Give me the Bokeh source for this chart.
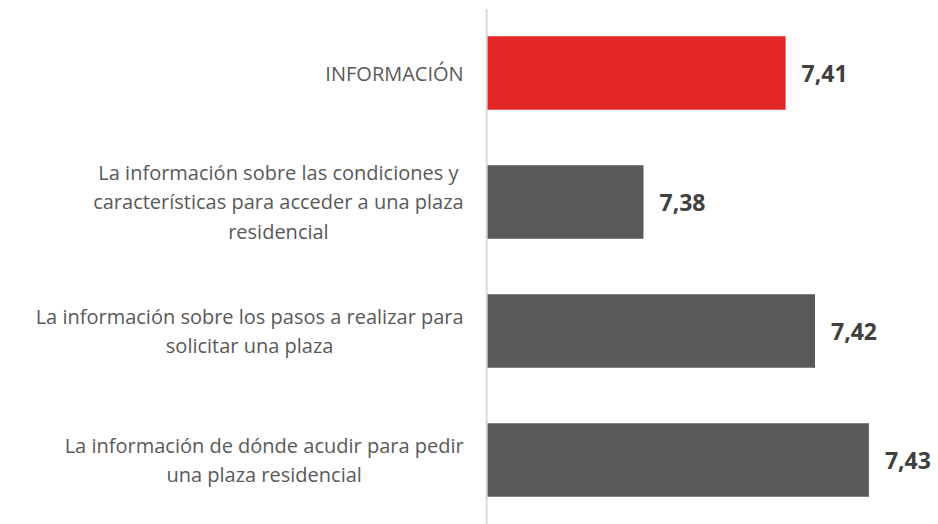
from bokeh.plotting import figure
from bokeh.models import FactorRange, Range1d, Span, ColumnDataSource
from bokeh.core.properties import value
from bokeh.embed import file_html
from bokeh.resources import INLINE

categories = [
    "INFORMACIÓN",
    "La información sobre las condiciones y\ncaracterísticas para acceder a una plaza\nresidencial",
    "La información sobre los pasos a realizar para\nsolicitar una plaza",
    "La información de dónde acudir para pedir\nuna plaza residencial",
]
values = [7.411, 7.382, 7.417, 7.428]
colors = ["#E32526", "#595959", "#595959", "#595959"]
value_labels = [f"{v:.2f}".replace(".", ",") for v in values]

axis_start = 7.35          # where the bars begin
view_start = 7.2508        # left room for the category labels
view_end = 7.4422

src = ColumnDataSource(dict(cat=categories, val=values, col=colors, lab=value_labels,
                            base=[axis_start] * len(values)))

p = figure(width=938, height=524, output_backend="svg", toolbar_location=None,
           y_range=FactorRange(factors=list(reversed(categories)), range_padding=0),
           x_range=Range1d(view_start, view_end),
           min_border_left=0, min_border_right=0, min_border_top=8, min_border_bottom=0)
p.xaxis.visible = False
p.yaxis.visible = False
p.grid.visible = False
p.outline_line_color = None
p.background_fill_color = "white"
p.border_fill_color = "white"

p.hbar(y="cat", left="base", right="val", height=0.57, fill_color="col", line_color=None, source=src)

p.add_layout(Span(location=axis_start, dimension="height", line_color="#d9d9d9", line_width=2))

p.text(x="val", y="cat", text="lab", source=src, x_offset=16,
       text_align="left", text_baseline="middle", text_font=value("Open Sans"),
       text_font_size="23px", text_font_style="bold", text_color="#404040")

p.text(x="base", y="cat", text="cat", source=src, x_offset=-23,
       anchor="center_right", text_align="center", text_baseline="middle",
       text_font=value("Open Sans"), text_font_size="20px", text_color="#595959",
       text_line_height=1.08)

open("out.html", "w").write(file_html(p, INLINE))
